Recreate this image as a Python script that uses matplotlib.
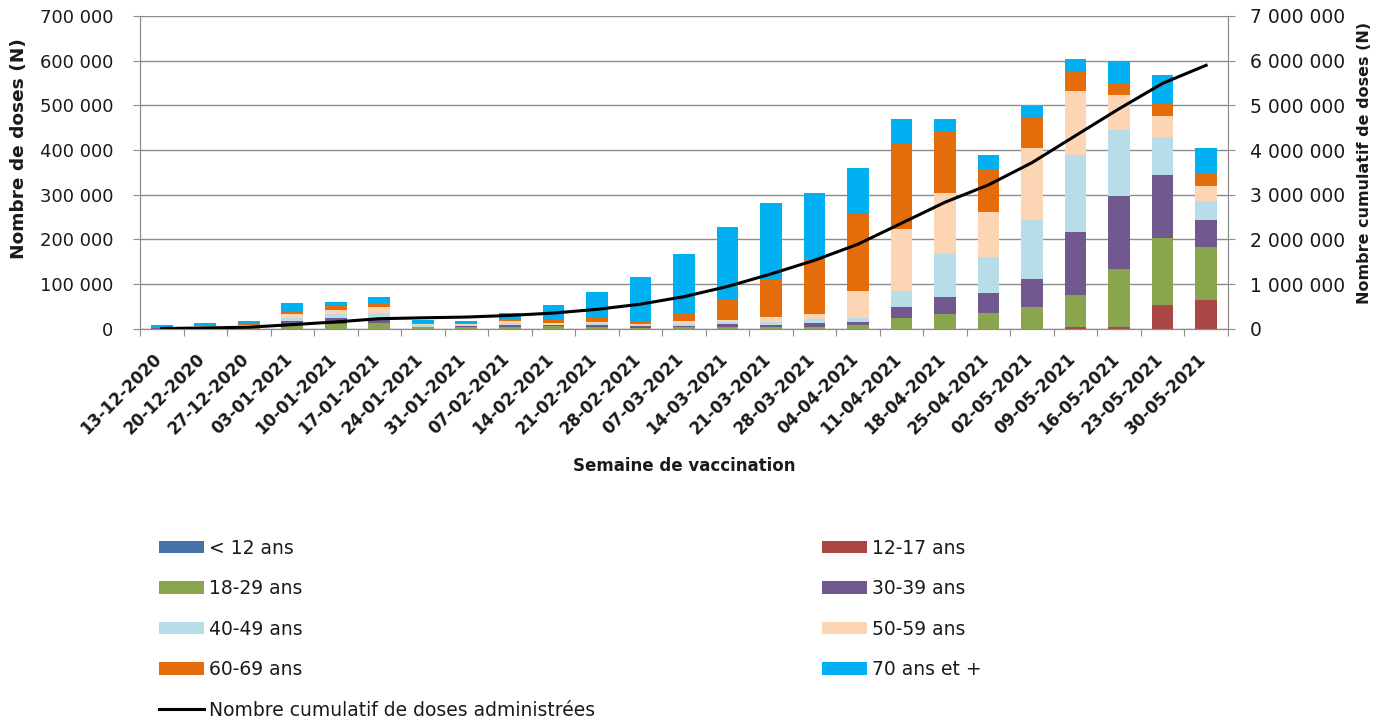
import matplotlib
matplotlib.use("Agg")
import matplotlib.pyplot as plt
import matplotlib.ticker as mticker
import matplotlib.transforms as mtransforms
from matplotlib.patches import Patch
from matplotlib.lines import Line2D
import numpy as np

# ── Data (doses per week, in thousands) ─────────────────────────────────────
weeks = ["13-12-2020", "20-12-2020", "27-12-2020", "03-01-2021", "10-01-2021",
         "17-01-2021", "24-01-2021", "31-01-2021", "07-02-2021", "14-02-2021",
         "21-02-2021", "28-02-2021", "07-03-2021", "14-03-2021", "21-03-2021",
         "28-03-2021", "04-04-2021", "11-04-2021", "18-04-2021", "25-04-2021",
         "02-05-2021", "09-05-2021", "16-05-2021", "23-05-2021", "30-05-2021"]

age_lt12 = [0] * 25
age_12_17 = [0, 0, 0, 0, 0, 0, 0, 0, 0, 0, 0, 0, 0, 0, 0, 0, 0, 0, 0, 0,
             0, 5, 5, 53, 64]
age_18_29 = [0.5, 1.5, 2, 10, 12, 14, 4.5, 3.7, 5, 6.7, 4.5, 3, 5, 5, 4.5,
             5, 8.5, 24.6, 33, 36.5, 48.5, 71, 128, 151, 120]
age_30_39 = [0.5, 1.5, 2, 7, 13, 10, 0.5, 3.7, 3.7, 1, 5, 4.5, 2, 5.5, 4.5,
             7.7, 7.5, 24.4, 39, 43.5, 64, 141, 164, 140, 60]
age_40_49 = [0.5, 2, 2, 8, 9, 12, 4.5, 0.5, 3.7, 2, 4, 1.5, 4, 4.5, 7,
             9, 8, 36.6, 97, 80, 131.5, 171, 148, 85, 41]
age_50_59 = [0.5, 2, 2, 8, 8, 12, 1.5, 2, 5, 3.7, 3, 1, 6, 5, 11.5,
             11.3, 61, 138, 136, 101, 161, 144, 79, 47, 35]
age_60_69 = [0.5, 2, 4.5, 7, 9, 9, 1.5, 3, 4.5, 7.5, 7.5, 7, 19, 45, 84.5,
             123, 171, 189.4, 135, 96, 67, 44, 25, 29, 28]
age_70p = [6, 3.7, 4.5, 17, 10, 15, 7.5, 4.5, 14, 32, 59, 99, 132, 162, 169,
           149, 105, 56, 29, 31, 27, 28, 51, 64, 56]

cumulative = [8, 20.7, 37.7, 94.7, 155.7, 227.7, 247.7, 264.7, 300.7, 353.7,
              436.7, 552.7, 720.7, 947.7, 1228.7, 1533.7, 1894.7, 2363.7,
              2832.7, 3220.7, 3719.7, 4323.7, 4923.7, 5492.7, 5896.7]

groups = [
    ("< 12 ans", age_lt12, "#4572A7"),
    ("12-17 ans", age_12_17, "#AA4643"),
    ("18-29 ans", age_18_29, "#89A54E"),
    ("30-39 ans", age_30_39, "#71588F"),
    ("40-49 ans", age_40_49, "#B7DDE8"),
    ("50-59 ans", age_50_59, "#FCD5B5"),
    ("60-69 ans", age_60_69, "#E46C0A"),
    ("70 ans et +", age_70p, "#00B0F0"),
]

TXT = "#1a1a1a"
GRID = "#8c8c8c"
plt.rcParams["font.family"] = ["DejaVu Sans"]


def _space_fmt(v, pos):
    return f"{v:,.0f}".replace(",", " ")


fig = plt.figure(figsize=(13.89, 7.26), dpi=100)
ax = fig.add_axes([0.1008, 0.547, 0.7832, 0.431])

x = np.arange(len(weeks))
bottom = np.zeros(len(weeks))
for label, vals, colour in groups:
    v = np.array(vals) * 1000
    ax.bar(x, v, bottom=bottom, width=0.5, color=colour, edgecolor="none", zorder=3)
    bottom += v

ax.set_xlim(-0.5, len(weeks) - 0.5)
ax.set_ylim(0, 700000)
ax.yaxis.set_major_locator(mticker.MultipleLocator(100000))
ax.yaxis.set_major_formatter(mticker.FuncFormatter(_space_fmt))
ax.grid(axis="y", color=GRID, linewidth=1, zorder=0)
ax.set_axisbelow(True)

# category ticks between bars, labels at the centres
ax.set_xticks(np.arange(-0.5, len(weeks), 1))
ax.set_xticklabels([])
ax.set_xticks(x, minor=True)
ax.set_xticklabels(weeks, minor=True, rotation=45, ha="right", rotation_mode="anchor",
                   fontsize=12, fontweight="bold", color=TXT)
ax.tick_params(axis="x", which="minor", length=0, pad=10)
ax.tick_params(axis="x", which="major", length=5, color=GRID, direction="out")
ax.tick_params(axis="y", length=5, color=GRID, labelsize=13, labelcolor=TXT, pad=14)
shift = mtransforms.ScaledTranslation(-0.09, -0.07, fig.dpi_scale_trans)
for lbl in ax.get_xticklabels(minor=True):
    lbl.set_transform(lbl.get_transform() + shift)

for side in ["left", "bottom", "right"]:
    ax.spines[side].set_color(GRID)
ax.spines["top"].set_visible(False)

ax.set_ylabel("Nombre de doses (N)", fontsize=13.3, fontweight="bold", color=TXT)
ax.yaxis.set_label_coords(-0.103, 0.575)
ax.set_xlabel("Semaine de vaccination", fontsize=12, fontweight="bold", color=TXT, labelpad=14)

ax2 = ax.twinx()
ax2.plot(x, np.array(cumulative) * 1000, color="black", linewidth=2.2, zorder=5)
ax2.set_ylim(0, 7000000)
ax2.yaxis.set_major_locator(mticker.MultipleLocator(1000000))
ax2.yaxis.set_major_formatter(mticker.FuncFormatter(_space_fmt))
ax2.tick_params(axis="y", length=5, color=GRID, labelsize=13.5, labelcolor=TXT, pad=11)
for side in ["left", "bottom", "right"]:
    ax2.spines[side].set_color(GRID)
ax2.spines["top"].set_visible(False)
ax2.set_ylabel("Nombre cumulatif de doses (N)", fontsize=11.5, fontweight="bold", color=TXT)
ax2.yaxis.set_label_coords(1.1185, 0.529)

# ── Legend in two hand-placed columns ──────────────────────────────────────
col1 = [groups[0], groups[2], groups[4], groups[6]]
col2 = [groups[1], groups[3], groups[5], groups[7]]
h1 = [Patch(facecolor=c, edgecolor="none") for _, _, c in col1]
h1.append(Line2D([0], [0], color="black", linewidth=2.2))
l1 = [n for n, _, _ in col1] + ["Nombre cumulatif de doses administrées"]
h2 = [Patch(facecolor=c, edgecolor="none") for _, _, c in col2]
l2 = [n for n, _, _ in col2]

leg_kw = dict(frameon=False, fontsize=13.5, handlelength=2.4, handleheight=0.65,
              handletextpad=0.28, labelspacing=1.15, labelcolor=TXT, borderpad=0)
fig.legend(h1, l1, loc="upper left", bbox_to_anchor=(0.1078, 0.271), **leg_kw)
fig.legend(h2, l2, loc="upper left", bbox_to_anchor=(0.5847, 0.271), **leg_kw)

fig.savefig("out.png", dpi=100)
